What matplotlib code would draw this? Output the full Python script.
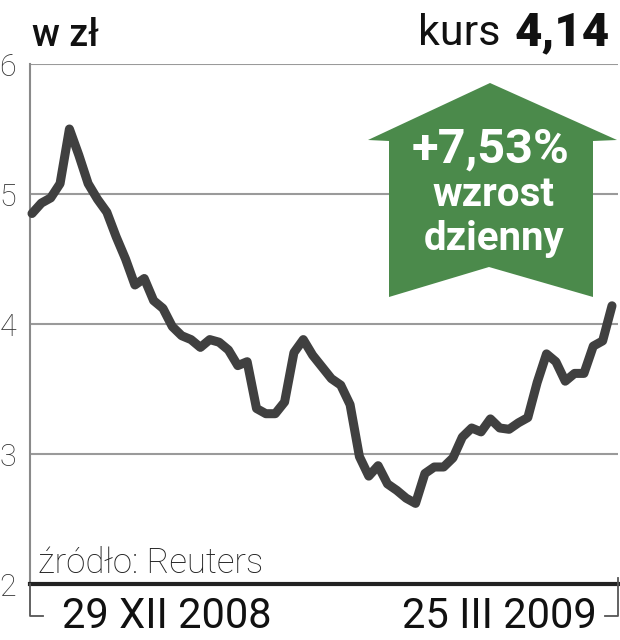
import matplotlib
matplotlib.use("Agg")
import matplotlib.pyplot as plt
from matplotlib.patches import Polygon
from matplotlib.lines import Line2D

# ---- data ----
prices = [4.85, 4.93, 4.97, 5.08, 5.50, 5.30, 5.08, 4.96, 4.86, 4.67,
          4.50, 4.30, 4.35, 4.18, 4.12, 3.98, 3.91, 3.88, 3.82, 3.88,
          3.86, 3.80, 3.68, 3.71, 3.35, 3.31, 3.31, 3.40, 3.78, 3.88,
          3.76, 3.67, 3.58, 3.53, 3.38, 2.98, 2.83, 2.91, 2.77, 2.72,
          2.66, 2.62, 2.85, 2.90, 2.90, 2.97, 3.13, 3.20, 3.17, 3.27,
          3.20, 3.19, 3.24, 3.28, 3.55, 3.77, 3.71, 3.56, 3.62, 3.62,
          3.83, 3.87, 4.14]
days = list(range(len(prices)))
y_ticks = [2, 3, 4, 5, 6]
y_labels = ["2", "3", "4", "5", "6"]
date_start = "29 XII 2008"
date_end = "25 III 2009"
unit_label = "w zł"
kurs_label = "kurs"
kurs_value = "4,14"
change_label = "+7,53%"
change_text = ["wzrost", "dzienny"]
source = "źródło: Reuters"

plt.rcParams['font.family'] = ['Roboto', 'DejaVu Sans']

W, H = 620, 640
fig = plt.figure(figsize=(W / 100, H / 100), dpi=100)

def fx(px):
    return px / W

def fy(py):
    return 1 - py / H

ax_l, ax_r, ax_t, ax_b = 30, 618, 64, 584
ax = fig.add_axes([fx(ax_l), fy(ax_b), fx(ax_r - ax_l), (ax_b - ax_t) / H])

n = len(prices)
scale = (612 - 32) / (n - 1)
ax.set_xlim(-(32 - ax_l) / scale, (n - 1) + (ax_r - 612) / scale)
ax.set_ylim(2, 6)

ax.set_yticks(y_ticks)
ax.set_yticklabels(y_labels)
ax.tick_params(axis='y', length=0, pad=10, labelsize=22, labelcolor='#333333')
for t in ax.get_yticklabels():
    t.set_fontweight('light')
ax.set_xticks([])
ax.grid(axis='y', color='#9a9a9a', linewidth=1.5, zorder=0)
for s in ['top', 'right']:
    ax.spines[s].set_visible(False)
ax.spines['left'].set_color('#8a8a8a')
ax.spines['left'].set_linewidth(1.5)
ax.spines['bottom'].set_color('#222222')
ax.spines['bottom'].set_linewidth(3)
ax.spines['bottom'].set_zorder(5)

ax.plot(days, prices, color='#404040', linewidth=6.5, solid_joinstyle='round',
        solid_capstyle='round', zorder=3, clip_on=False)

# bottom brackets
fig.add_artist(Line2D([fx(30), fx(30), fx(43)], [fy(584), fy(616), fy(616)],
                      color='#555555', linewidth=1.3))
fig.add_artist(Line2D([fx(605), fx(618), fx(618)], [fy(616), fy(616), fy(578)],
                      color='#555555', linewidth=1.3))

fig.text(fx(62), fy(628), date_start, fontsize=30, ha='left', va='baseline',
         color='#111111', fontweight='normal')
fig.text(fx(597), fy(628), date_end, fontsize=30, ha='right', va='baseline',
         color='#111111', fontweight='normal')

fig.text(fx(38), fy(573), source, fontsize=25, ha='left', va='baseline',
         color='#222222', fontweight='light')

# header
fig.text(fx(32), fy(46), unit_label, fontsize=27, ha='left', va='baseline',
         color='#111111', fontweight='medium')
t_val = fig.text(fx(610), fy(45), kurs_value, fontsize=34, ha='right', va='baseline',
                 color='#111111', fontweight='black')
fig.canvas.draw()
bb = t_val.get_window_extent()
fig.text(bb.x0 / W - fx(14), fy(45), kurs_label, fontsize=31, ha='right', va='baseline',
         color='#111111')

# arrow
green = '#4b8a4b'
arrow_px = [(490, 83), (617, 140), (593, 141), (593, 297), (489, 267),
            (389, 297), (389, 141), (368, 140)]
poly = Polygon([(fx(x), fy(y)) for x, y in arrow_px], closed=True,
               transform=fig.transFigure, facecolor=green, edgecolor='none', zorder=10)
fig.add_artist(poly)
fig.text(fx(491), fy(163), change_label, fontsize=35, ha='center', va='baseline',
         color='white', fontweight='bold', zorder=11)
fig.text(fx(493), fy(206), change_text[0], fontsize=29, ha='center', va='baseline',
         color='white', fontweight='bold', zorder=11)
fig.text(fx(494), fy(250), change_text[1], fontsize=29, ha='center', va='baseline',
         color='white', fontweight='bold', zorder=11)

fig.savefig("out.png", dpi=100)
